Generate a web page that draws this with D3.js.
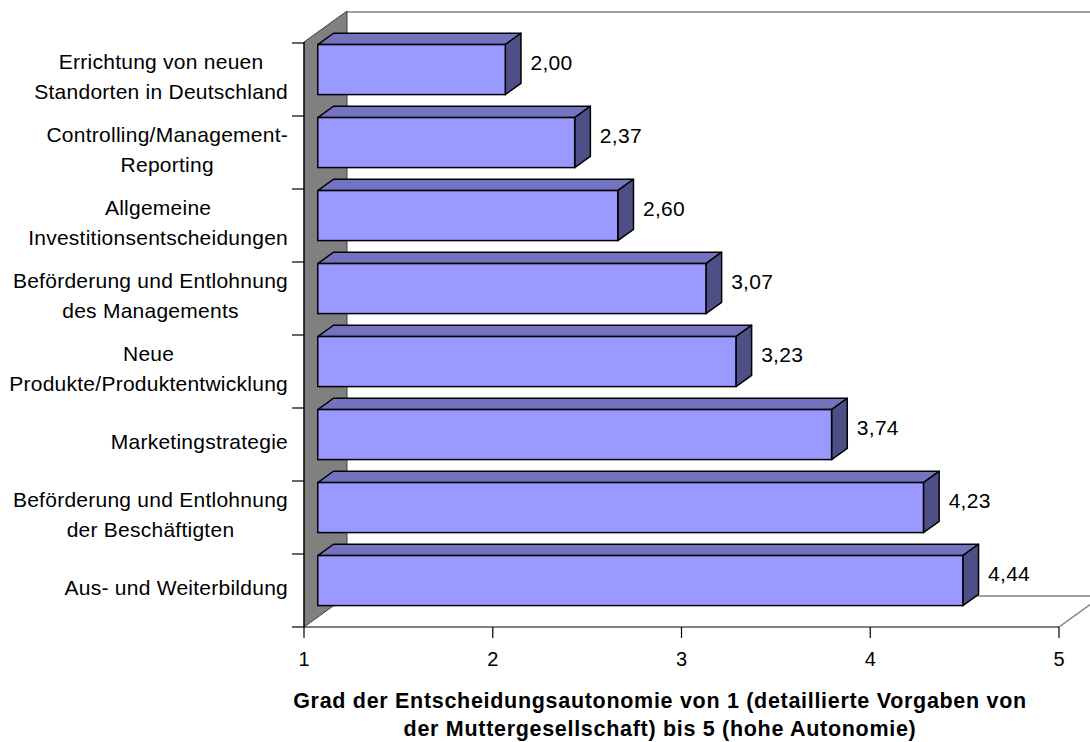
<!DOCTYPE html>
<html>
<head>
<meta charset="utf-8">
<script src="https://cdn.jsdelivr.net/npm/d3@7"></script>
<style>
  html, body { margin: 0; padding: 0; background: #fff; }
  svg { display: block; }
  text { font-family: "Liberation Sans", Arial, sans-serif; fill: #000; }
</style>
</head>
<body>
<svg id="chart" width="1090" height="742"></svg>
<script>
// ---- data ----
const categories = [
  "Errichtung von neuen\nStandorten in Deutschland",
  "Controlling/Management-\nReporting",
  "Allgemeine\nInvestitionsentscheidungen",
  "Beförderung und Entlohnung\ndes Managements",
  "Neue\nProdukte/Produktentwicklung",
  "Marketingstrategie",
  "Beförderung und Entlohnung\nder Beschäftigten",
  "Aus- und Weiterbildung"
];
const values = [2.00, 2.37, 2.60, 3.07, 3.23, 3.74, 4.23, 4.44];
const valueLabels = ["2,00", "2,37", "2,60", "3,07", "3,23", "3,74", "4,23", "4,44"];
const xTicks = [1, 2, 3, 4, 5];
const xDomain = [1, 5];
const axisTitle = [
  "Grad der Entscheidungsautonomie von 1 (detaillierte Vorgaben von",
  "der Muttergesellschaft) bis 5 (hohe Autonomie)"
];

(function () {
// ---- layout ----
const pL = 304, pR = 1059, pT = 43, pB = 627;
const depthX = 43, depthY = -31;          // wall depth (oblique projection)
const barOffF = 0.32, barDepthF = 0.365;  // bar position inside depth
const colFront = "#9999FF", colTop = "#7373BF", colSide = "#4F4F87";

const svg = d3.select("#chart");

const x = d3.scaleLinear().domain(xDomain).range([pL, pR]);
const xBar = d3.scaleLinear().domain(xDomain).range([pL, pL + (pR - pL) * 0.9935]);
const y = d3.scaleBand().domain(categories).range([pT, pB])
  .paddingInner(0.315).paddingOuter(0.1575);

// back wall top line & floor back line
svg.append("line").attr("x1", pL + depthX).attr("y1", pT + depthY)
  .attr("x2", pR + depthX + 10).attr("y2", pT + depthY)
  .attr("stroke", "#808080").attr("stroke-width", 1.5);
svg.append("line").attr("x1", pL + depthX).attr("y1", pB + depthY)
  .attr("x2", pR + depthX + 10).attr("y2", pB + depthY)
  .attr("stroke", "#808080").attr("stroke-width", 1.5);
// floor right edge
svg.append("line").attr("x1", pR).attr("y1", pB)
  .attr("x2", pR + depthX).attr("y2", pB + depthY)
  .attr("stroke", "#808080").attr("stroke-width", 1.5);

// left wall
svg.append("path")
  .attr("d", d3.line()([[pL, pT - 1], [pL + depthX, pT + depthY - 1], [pL + depthX, pB + depthY], [pL, pB]]) + "Z")
  .attr("fill", "#808080").attr("stroke", "#404040").attr("stroke-width", 1);

// front axes lines
svg.append("line").attr("x1", pL).attr("y1", pT - 1).attr("x2", pL).attr("y2", pB)
  .attr("stroke", "#000").attr("stroke-width", 1.2);
svg.append("line").attr("x1", pL).attr("y1", pB).attr("x2", pR).attr("y2", pB)
  .attr("stroke", "#000").attr("stroke-width", 1.2);

// category ticks (band boundaries)
const step = y.step();
const bounds = d3.range(categories.length + 1).map(i => pT + i * step);
svg.append("g").selectAll("line").data(bounds).join("line")
  .attr("x1", pL - 12).attr("x2", pL)
  .attr("y1", d => d).attr("y2", d => d)
  .attr("stroke", "#000").attr("stroke-width", 1.2);

// x ticks
const xg = svg.append("g");
xg.selectAll("line").data(xTicks).join("line")
  .attr("x1", d => x(d)).attr("x2", d => x(d))
  .attr("y1", pB).attr("y2", pB + 11)
  .attr("stroke", "#000").attr("stroke-width", 1.2);
xg.selectAll("text").data(xTicks).join("text")
  .attr("x", d => x(d)).attr("y", 666)
  .attr("text-anchor", "middle").attr("font-size", 20)
  .text(d => d);

// bars
const ox = barOffF * depthX, oy = barOffF * depthY;
const bx = barDepthF * depthX, by = barDepthF * depthY;
const bh = y.bandwidth();
const bars = svg.append("g").selectAll("g").data(categories.map((c, i) => ({c, v: values[i], l: valueLabels[i]})))
  .join("g");
bars.each(function(d) {
  const g = d3.select(this);
  const x0 = xBar(xDomain[0]) + ox, x1 = xBar(d.v) + ox;
  const y0 = y(d.c) + oy, y1 = y0 + bh;
  const line = d3.line();
  g.append("path").attr("d", line([[x0, y0], [x0 + bx, y0 + by], [x1 + bx, y0 + by], [x1, y0]]) + "Z")
    .attr("fill", colTop).attr("stroke", "#000").attr("stroke-width", 1.5).attr("stroke-linejoin", "round");
  g.append("path").attr("d", line([[x1, y0], [x1 + bx, y0 + by], [x1 + bx, y1 + by], [x1, y1]]) + "Z")
    .attr("fill", colSide).attr("stroke", "#000").attr("stroke-width", 1.5).attr("stroke-linejoin", "round");
  g.append("rect").attr("x", x0).attr("y", y0).attr("width", x1 - x0).attr("height", bh)
    .attr("fill", colFront).attr("stroke", "#000").attr("stroke-width", 1.5);
  g.append("text").attr("x", x1 + bx + 9.5).attr("y", (y0 + y1) / 2 + 0.5)
    .attr("font-size", 21).attr("letter-spacing", 0.3).text(d.l);
});

// category labels
const lineH = 29.5;
const labG = svg.append("g");
categories.forEach(c => {
  const lines = c.split("\n");
  const g = labG.append("g");
  const cy = y(c) + bh / 2 - 3;
  const n = lines.length;
  const texts = lines.map((ln, i) => g.append("text")
    .attr("font-size", 21).attr("letter-spacing", 0.25)
    .attr("y", cy + (i - (n - 1) / 2) * lineH + 7.6)
    .attr("text-anchor", "middle")
    .text(ln));
  const maxW = d3.max(texts, t => t.node().getComputedTextLength());
  texts.forEach(t => t.attr("x", 288 - maxW / 2));
});

// axis title
svg.append("g").selectAll("text").data(axisTitle).join("text")
  .attr("x", 660).attr("y", (d, i) => 708 + i * 28)
  .attr("text-anchor", "middle").attr("font-size", 21.5).attr("font-weight", "bold")
  .attr("letter-spacing", 0.7)
  .text(d => d);
})();
</script>
</body>
</html>
